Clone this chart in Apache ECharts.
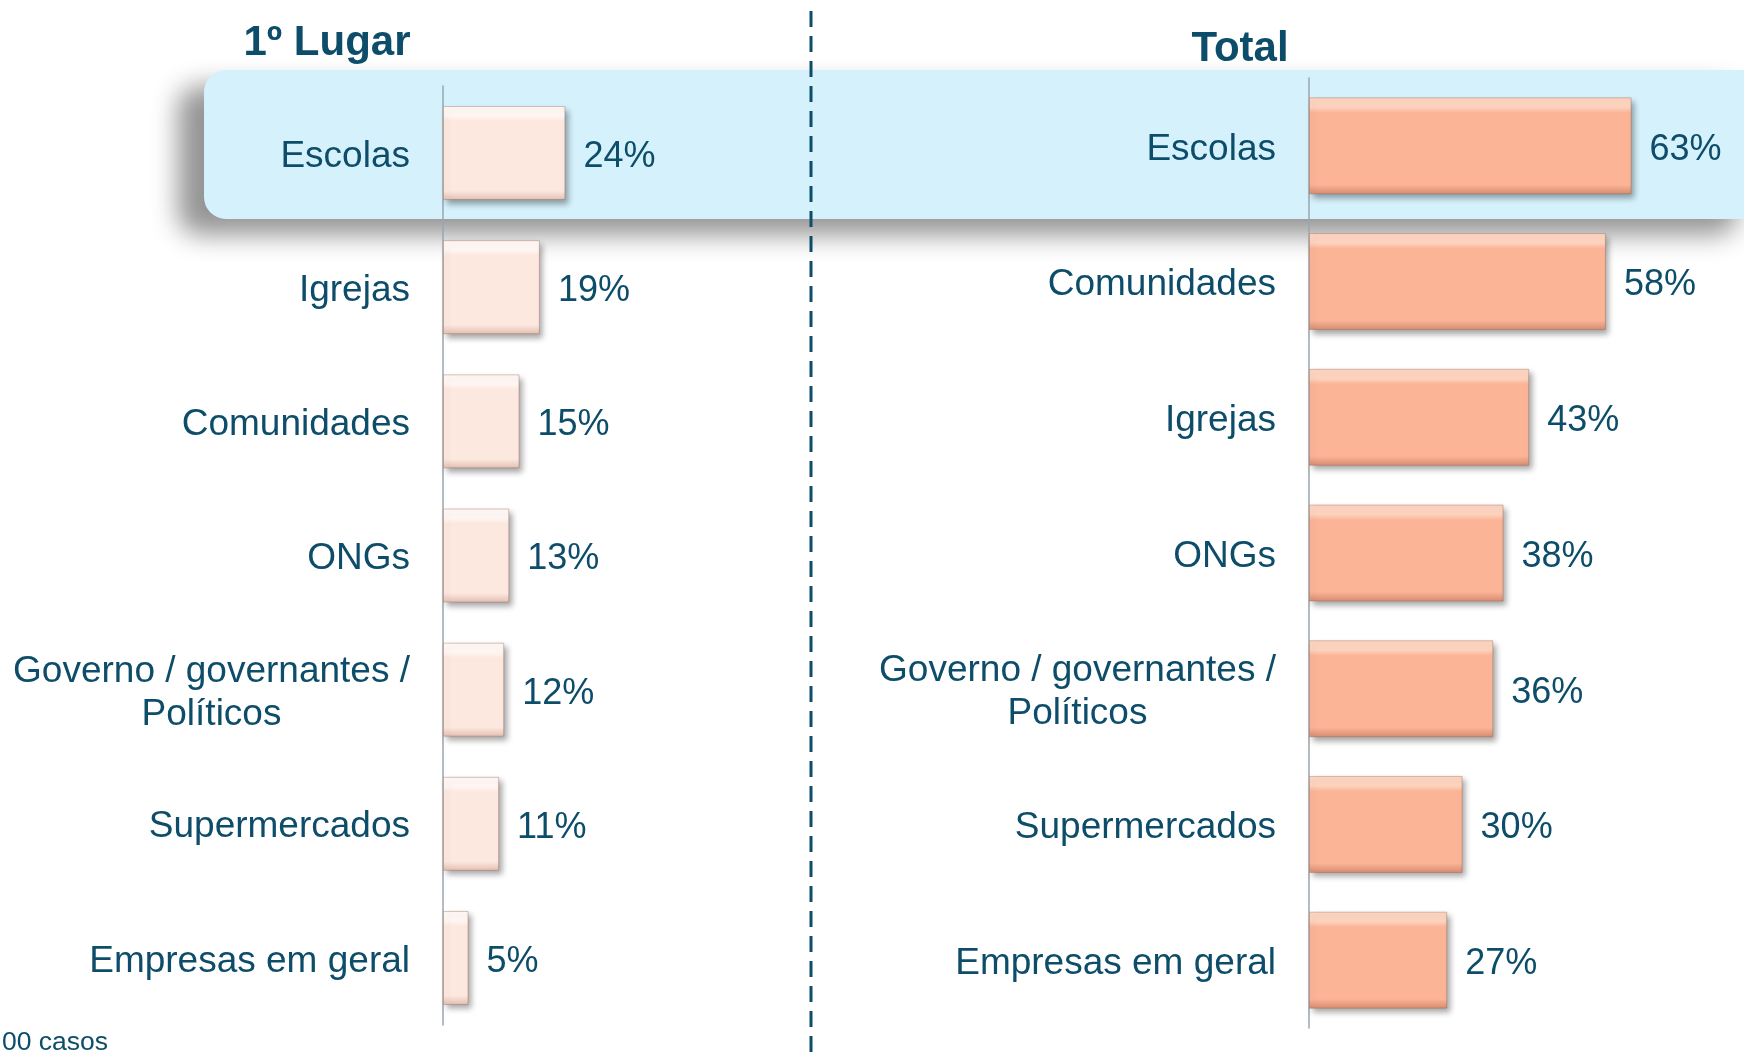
<!DOCTYPE html>
<html>
<head>
<meta charset="utf-8">
<script src="https://cdn.jsdelivr.net/npm/echarts@6/dist/echarts.min.js"></script>
<style>
  html, body { margin: 0; padding: 0; background: #fff; }
  #chart { width: 1744px; height: 1056px; }
</style>
</head>
<body>
<div id="chart"></div>
<script>
// 数据
const firstCategories = ['Escolas', 'Igrejas', 'Comunidades', 'ONGs', 'Governo / governantes /\nPolíticos', 'Supermercados', 'Empresas em geral'];
const firstValues = [24, 19, 15, 13, 12, 11, 5];
const totalCategories = ['Escolas', 'Comunidades', 'Igrejas', 'ONGs', 'Governo / governantes /\nPolíticos', 'Supermercados', 'Empresas em geral'];
const totalValues = [63, 58, 43, 38, 36, 30, 27];
const titles = ['1º Lugar', 'Total'];
const footnote = '00 casos';

const textColor = '#0d4d69';
const fontFamily = '"Liberation Sans", Arial, sans-serif';

// 类目标签：两行时居中
function catLabel(v) {
    return v.split('\n').map(function(s) { return '{c|' + s + '}'; }).join('\n');
}

function bevel(top, base, bottom) {
    return new echarts.graphic.LinearGradient(0, 0, 0, 1, [
        { offset: 0, color: top },
        { offset: 0.1, color: top },
        { offset: 0.16, color: base },
        { offset: 0.9, color: base },
        { offset: 1, color: bottom }
    ]);
}

function yAxisFor(idx, cats) {
    return {
        type: 'category',
        gridIndex: idx,
        inverse: true,
        data: cats,
        axisTick: { show: false },
        axisLine: { show: true, lineStyle: { color: '#9aa6ae', width: 1.5 } },
        axisLabel: {
            margin: 33,
            color: textColor,
            fontSize: 37,
            fontFamily: fontFamily,
            padding: [7, 0, 0, 0],
            formatter: catLabel,
            rich: { c: { align: 'center', color: textColor, fontSize: 37, fontFamily: fontFamily, lineHeight: 43 } }
        }
    };
}

function xAxisFor(idx, max) {
    return {
        type: 'value',
        gridIndex: idx,
        min: 0,
        max: max,
        show: false
    };
}

function barSeries(idx, values, width, fill) {
    return {
        type: 'bar',
        xAxisIndex: idx,
        yAxisIndex: idx,
        data: values,
        barWidth: width,
        z: 3,
        itemStyle: {
            color: fill,
            borderColor: 'rgba(150,90,70,0.35)',
            borderWidth: 1,
            shadowBlur: 6,
            shadowOffsetX: 3,
            shadowOffsetY: 4,
            shadowColor: 'rgba(0,0,0,0.35)'
        },
        label: {
            show: true,
            position: 'right',
            distance: 18,
            offset: [0, 4],
            color: textColor,
            fontSize: 36,
            fontFamily: fontFamily,
            formatter: '{c}%'
        }
    };
}

const chart = echarts.init(document.getElementById('chart'));
chart.setOption({
    backgroundColor: '#ffffff',
    animation: false,
    title: [
        { text: titles[0], left: 322, top: 17, textAlign: 'center',
          textStyle: { color: textColor, fontSize: 42, fontWeight: 'bold', fontFamily: fontFamily } },
        { text: titles[1], left: 1235, top: 23, textAlign: 'center',
          textStyle: { color: textColor, fontSize: 42, fontWeight: 'bold', fontFamily: fontFamily } }
    ],
    grid: [
        { left: 443, top: 86, width: 306, height: 939 },
        { left: 1309, top: 78, width: 384, height: 950 }
    ],
    xAxis: [xAxisFor(0, 60), xAxisFor(1, 75)],
    yAxis: [yAxisFor(0, firstCategories), yAxisFor(1, totalCategories)],
    series: [
        barSeries(0, firstValues, 94, bevel('#fff7f3', '#fde8df', '#e2bfb2')),
        barSeries(1, totalValues, 97, bevel('#fdd4bf', '#fbb496', '#d58b70'))
    ],
    graphic: [
        {
            type: 'rect',
            z: -10,
            shape: { x: 204, y: 70, width: 1560, height: 149, r: 22 },
            style: {
                fill: '#d5f1fc',
                shadowBlur: 26,
                shadowOffsetX: -26,
                shadowOffsetY: 16,
                shadowColor: 'rgba(0,0,0,0.42)'
            }
        },
        {
            type: 'line',
            z: 10,
            shape: { x1: 811, y1: 11, x2: 811, y2: 1056 },
            style: { stroke: '#0d4d69', lineWidth: 3, lineDash: [16, 9] }
        },
        {
            type: 'text',
            z: 10,
            left: 2,
            top: 1029,
            style: { text: footnote, fill: textColor, fontSize: 26.5, fontFamily: fontFamily }
        }
    ]
});
</script>
</body>
</html>
